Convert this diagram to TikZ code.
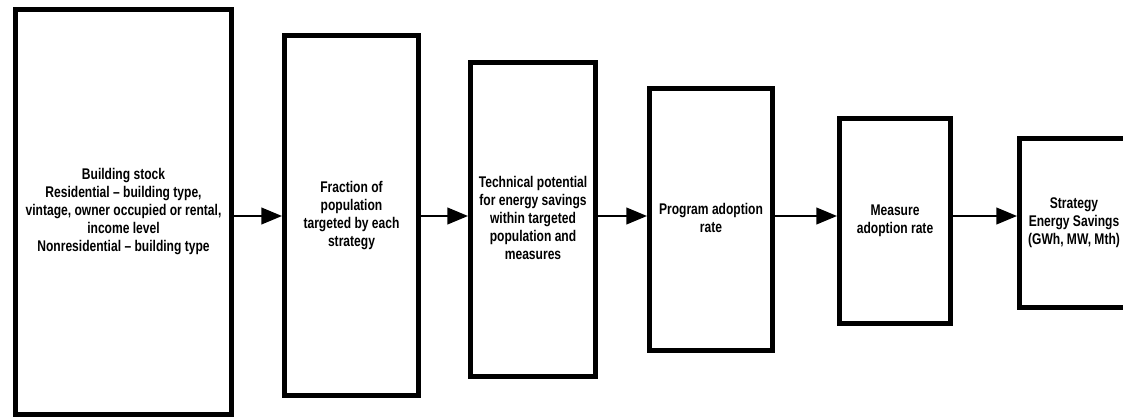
\documentclass[tikz,border=0pt]{standalone}
\usepackage{fontspec}
\setmainfont{Liberation Sans}[FakeStretch=0.78]
\usepackage{tikz}
\usetikzlibrary{arrows.meta}
\usetikzlibrary{positioning}
\tikzset{
    stage/.style={
           rectangle,
           draw=black, line width=3.75pt,
           fill=white,
           inner sep=0pt,
           font=\fontsize{11.6pt}{13.5pt}\selectfont\bfseries,
           text centered,
           },
    flow/.style={
           line width=1.5pt,
           -{Triangle[length=15.5pt,width=12.5pt]},
           },
}
\newcommand{\stagetext}[2]{\raisebox{#1}{\begin{tabular}{c}#2\end{tabular}}}

\begin{document}
\begin{tikzpicture}[x=0.75pt,y=-0.75pt]
      \useasboundingbox (0,0) rectangle (1123,418);
      \fill[white] (0,0) rectangle (1123,418);

      % STAGE 1 BUILDING STOCK
      % tallest box, everything else hangs off it
      \node[stage,
          minimum width=162pt,
          minimum height=303.75pt
          ] (BLD_STOCK) at (123.5,212)
      {\stagetext{8.25pt}{%
          Building stock\\
          Residential -- building type,\\
          vintage, owner occupied or rental,\\
          income level\\
          Nonresidential -- building type}};

      % STAGE 2 TARGETED FRACTION
      \node[stage,
          minimum width=100.5pt,
          minimum height=270pt,
          right=36pt of BLD_STOCK,
          yshift=-2.625pt] (POP_FRAC)
      {\stagetext{0pt}{%
          Fraction of\\
          population\\
          targeted by each\\
          strategy}};

      % STAGE 3 TECHNICAL POTENTIAL
      \node[stage,
          minimum width=93.75pt,
          minimum height=235.5pt,
          right=35.25pt of POP_FRAC,
          yshift=-3pt] (TECH_POT)
      {\stagetext{3.75pt}{%
          Technical potential\\
          for energy savings\\
          within targeted\\
          population and\\
          measures}};

      % STAGE 4 PROGRAM ADOPTION
      \node[stage,
          minimum width=92.25pt,
          minimum height=196.5pt,
          right=36.75pt of TECH_POT] (PROG_RATE)
      {\stagetext{3pt}{%
          Program adoption\\
          rate}};

      % STAGE 5 MEASURE ADOPTION
      \node[stage,
          minimum width=83.25pt,
          minimum height=153.75pt,
          right=46.5pt of PROG_RATE,
          yshift=-1.125pt] (MEAS_RATE)
      {\stagetext{4.5pt}{%
          Measure\\
          adoption rate}};

      % STAGE 6 SAVINGS (runs off the right edge)
      \node[stage,
          minimum width=81.75pt,
          minimum height=126.75pt,
          right=48pt of MEAS_RATE,
          yshift=-1.5pt] (SAVINGS)
      {\stagetext{5.25pt}{%
          Strategy\\
          Energy Savings\\
          (GWh, MW, Mth)}};

      % all arrows sit on one line
      \coordinate (FLOW) at (0,216);
      \draw[flow] (BLD_STOCK.east |- FLOW) -- (POP_FRAC.west |- FLOW);
      \draw[flow] (POP_FRAC.east |- FLOW)  -- (TECH_POT.west |- FLOW);
      \draw[flow] (TECH_POT.east |- FLOW)  -- (PROG_RATE.west |- FLOW);
      \draw[flow] (PROG_RATE.east |- FLOW) -- (MEAS_RATE.west |- FLOW);
      \draw[flow] (MEAS_RATE.east |- FLOW) -- (SAVINGS.west |- FLOW);

\end{tikzpicture}
\end{document}
